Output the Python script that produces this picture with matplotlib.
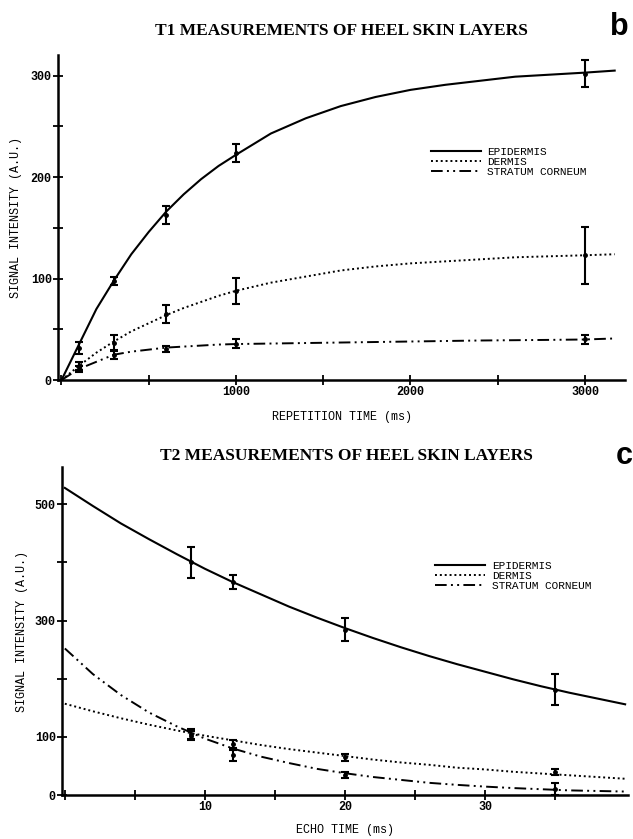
import matplotlib.pyplot as plt

# ---- T1 data (Repetition time, ms) ----
tr_points = [100, 300, 600, 1000, 3000]
t1_epi = [32, 98, 163, 224, 302]
t1_epi_err = [6, 4, 9, 9, 13]
t1_derm = [14, 37, 65, 88, 123]
t1_derm_err = [4, 7, 9, 13, 28]
t1_strat = [11, 25, 31, 36, 40]
t1_strat_err = [3, 4, 3, 4, 4]

# fitted curves
tr_curve = [0, 100, 200, 300, 400, 500, 600, 700, 800, 900, 1000, 1200, 1400,
            1600, 1800, 2000, 2200, 2400, 2600, 2800, 3000, 3170]
t1_epi_curve = [0, 35, 70, 98, 124, 146, 166, 183, 198, 211, 222, 243, 258,
                270, 279, 286, 291, 295, 299, 301, 303, 305]
t1_derm_curve = [0, 14, 27, 38, 48, 56, 64, 71, 77, 83, 88, 96, 102,
                 108, 112, 115, 117, 119, 121, 122, 123, 124]
t1_strat_curve = [0, 11, 18, 25, 28, 30, 32, 33, 34, 35, 35.5, 36, 36.5,
                  37, 37.5, 38, 38.5, 39, 39.3, 39.6, 40, 41]

# ---- T2 data (Echo time, ms) ----
te_points = [9, 12, 20, 35]
t2_epi = [400, 367, 284, 181]
t2_epi_err = [26, 12, 20, 27]
t2_derm = [105, 88, 65, 40]
t2_derm_err = [8, 7, 6, 5]
t2_strat = [102, 68, 35, 10]
t2_strat_err = [8, 9, 5, 10]

te_curve = [0, 2, 4, 6, 8, 10, 12, 14, 16, 18, 20, 22, 24, 26, 28, 30, 32,
            34, 36, 38, 40]
t2_epi_curve = [528, 497, 467, 440, 414, 389, 366, 345, 324, 305, 287, 270,
                254, 239, 225, 212, 199, 187, 176, 166, 156]
t2_derm_curve = [157, 144, 132, 121, 111, 102, 94, 86, 79, 73, 67, 61, 56,
                 52, 47, 44, 40, 37, 34, 31, 28]
t2_strat_curve = [252, 208, 172, 142, 118, 97, 80, 66, 55, 45, 37.5, 31, 26,
                  21, 17.5, 14.5, 12, 10, 8, 7, 6]

labels = ["EPIDERMIS", "DERMIS", "STRATUM CORNEUM"]
# solid / dotted / long dash + two dots
styles = ["-", (0, (1, 1.5)), (0, (6, 2.2, 1, 2.2, 1, 2.2))]

mono = "Liberation Mono"
serif = "Liberation Serif"

fig = plt.figure(figsize=(6.33, 8.39), dpi=100)
ax1 = fig.add_axes([0.0916, 0.547, 0.896, 0.387])
ax2 = fig.add_axes([0.098, 0.0524, 0.894, 0.391])


def draw(ax, xp, series, xc, curves):
    for (y, e), c, ls, lab in zip(series, curves, styles, labels):
        ax.plot(xc, c, color="black", lw=1.5 if ls == "-" else 1.4,
                linestyle=ls, label=lab)
        ax.errorbar(xp, y, yerr=e, fmt="o", ms=2.5, color="black",
                    ecolor="black", elinewidth=1.5, capsize=3, capthick=1.5)


draw(ax1, tr_points,
     [(t1_epi, t1_epi_err), (t1_derm, t1_derm_err), (t1_strat, t1_strat_err)],
     tr_curve, [t1_epi_curve, t1_derm_curve, t1_strat_curve])
draw(ax2, te_points,
     [(t2_epi, t2_epi_err), (t2_derm, t2_derm_err), (t2_strat, t2_strat_err)],
     te_curve, [t2_epi_curve, t2_derm_curve, t2_strat_curve])

ax1.set_xlim(-20, 3230)
ax1.set_ylim(0, 320)
ax1.set_xticks([0, 500, 1000, 1500, 2000, 2500, 3000])
ax1.set_xticklabels(["", "", "1000", "", "2000", "", "3000"])
ax1.set_yticks([0, 50, 100, 150, 200, 250, 300])
ax1.set_yticklabels(["0", "", "100", "", "200", "", "300"])

ax2.set_xlim(-0.2, 40.2)
ax2.set_ylim(0, 564)
ax2.set_xticks([0, 5, 10, 15, 20, 25, 30, 35])
ax2.set_xticklabels(["", "", "10", "", "20", "", "30", ""])
ax2.set_yticks([0, 100, 200, 300, 400, 500])
ax2.set_yticklabels(["0", "100", "", "300", "", "500"])

anchors = [(0.649, 0.732), (0.652, 0.728)]
pads = [6, 5]
for ax, anc, lp in zip((ax1, ax2), anchors, pads):
    for s in ("top", "right"):
        ax.spines[s].set_visible(False)
    for s in ("left", "bottom"):
        ax.spines[s].set_linewidth(1.8)
    ax.tick_params(direction="inout", length=7, width=1.3, pad=1,
                   labelsize=8.5)
    for t in ax.get_xticklabels() + ax.get_yticklabels():
        t.set_fontfamily(mono)
        t.set_fontweight("bold")
    ax.set_ylabel("SIGNAL INTENSITY (A.U.)", fontfamily=mono, fontsize=8.5,
                  labelpad=lp)
    ax.legend(loc="upper left", bbox_to_anchor=anc,
              frameon=False, handlelength=4.5, handletextpad=0.6,
              labelspacing=0.0, borderaxespad=0,
              prop={"family": mono, "size": 8})

ax1.set_xlabel("REPETITION TIME (ms)", fontfamily=mono, fontsize=8.5,
               labelpad=9)
ax2.set_xlabel("ECHO TIME (ms)", fontfamily=mono, fontsize=8.5, labelpad=8)

fig.text(0.540, 0.963, "T1 MEASUREMENTS OF HEEL SKIN LAYERS", ha="center",
         va="center", fontfamily=serif, fontweight="bold", fontsize=12.5)
fig.text(0.978, 0.968, "b", ha="center", va="center",
         fontfamily="Liberation Sans", fontweight="bold", fontsize=22)
fig.text(0.548, 0.4565, "T2 MEASUREMENTS OF HEEL SKIN LAYERS", ha="center",
         va="center", fontfamily=serif, fontweight="bold", fontsize=12.5)
fig.text(0.999, 0.4565, "c", ha="right", va="center",
         fontfamily="Liberation Sans", fontweight="bold", fontsize=22)

fig.savefig("out.png", dpi=100)
